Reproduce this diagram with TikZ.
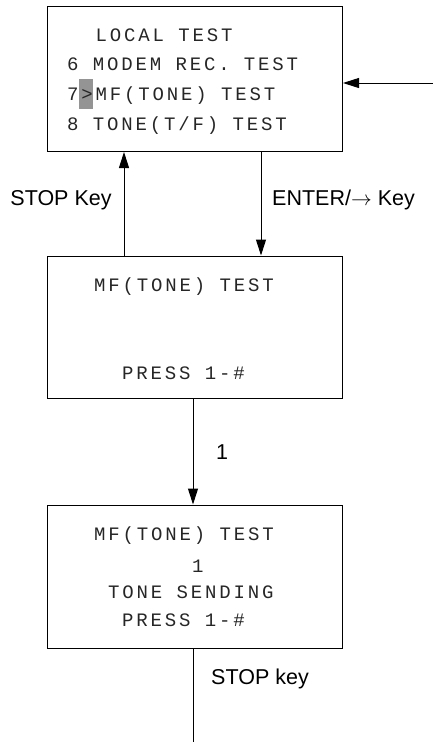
\documentclass[tikz,border=0pt]{standalone}
\usepackage{fontspec}
\setmainfont{Liberation Sans}
\newfontfamily\lcdfont[LetterSpace=15]{Liberation Mono}
\usetikzlibrary{arrows.meta,positioning}

\begin{document}
\begin{tikzpicture}[x=1pt,y=-1pt,
    lcd/.style={draw, line width=1pt, minimum width=295pt, inner sep=0pt},
    row/.style={anchor=base west, inner sep=0pt, text=black!85,
        font=\lcdfont\fontsize{19}{19}\selectfont},
    key/.style={inner sep=0pt, font=\fontsize{21.5}{21.5}\selectfont},
    arr/.style={line width=1pt, -{Triangle[length=16pt,width=10pt]}}]
    \useasboundingbox (0,0) rectangle (433,742);
    % display boxes
    \node[lcd, minimum height=145pt] (local) at (195,79) {};
    \node[lcd, minimum height=142pt] (mfwait) at (195,327) {};
    \node[lcd, minimum height=143pt] (mfsend) at (195,576.5) {};
    % cursor
    \fill[black!42] (79,79) rectangle (93,109);
    % lines on the displays
    \node[row] (l1) at (67,41) {\ \ LOCAL TEST};
    \node[row] (l2) at (67,70) {6 MODEM REC. TEST};
    \node[row] (l3) at (67,100) {7>MF(TONE) TEST};
    \node[row] (l4) at (67,130) {8 TONE(T/F) TEST};
    \node[row] (w1) at (94,291) {MF(TONE) TEST};
    \node[row] (w2) at (122,379) {PRESS 1-\#};
    \node[row] (s1) at (94,540) {MF(TONE) TEST};
    \node[row] (s2) at (192,572) {1};
    \node[row] (s3) at (108,598) {TONE SENDING};
    \node[row] (s4) at (122,626) {PRESS 1-\#};
    % where the connectors run
    \coordinate (stopx) at (124,0);
    \coordinate (enterx) at (261,0);
    \coordinate (onex) at (193,0);
    \coordinate (entry) at (433,83);
    \coordinate (exit) at (193,742);
    \draw[arr] (entry) -- (entry -| local.east);
    \draw[arr] (mfwait.north -| stopx) -- (local.south -| stopx);
    \draw[arr] (local.south -| enterx) -- (mfwait.north -| enterx);
    \draw[arr] (mfwait.south -| onex) -- (mfsend.north -| onex);
    \draw[line width=1pt] (mfsend.south -| exit) -- (exit);
    % key labels
    \node[key] (stopup) at (61,200) {STOP Key};
    \node[key, anchor=west] (enter) at (272,200) {ENTER/$\rightarrow$ Key};
    \node[key] (one) at (222,452) {1};
    \node[key, anchor=west] (stopdown) at (211,679) {STOP key};
\end{tikzpicture}
\end{document}
